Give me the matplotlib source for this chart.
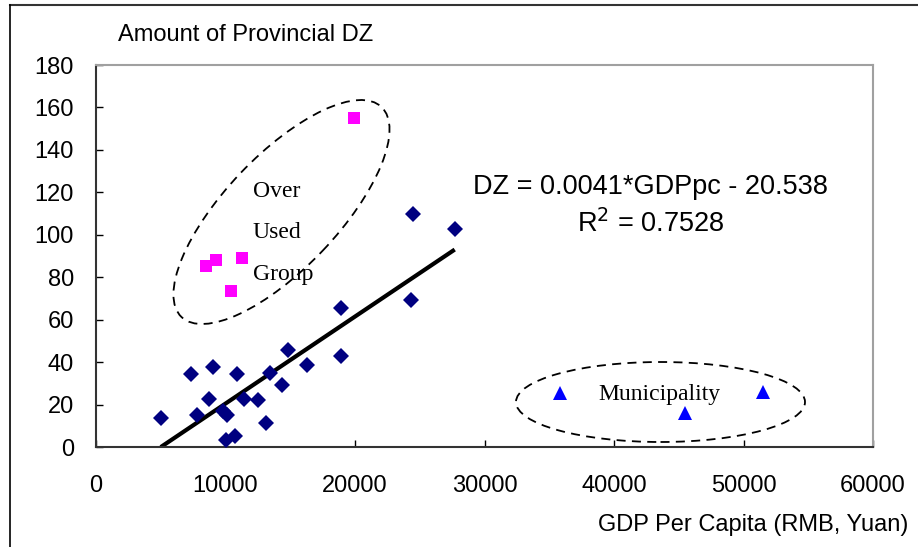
#!/usr/bin/env python3

import sys
import matplotlib
matplotlib.use("Agg")
import matplotlib.pyplot as plt
from matplotlib.patches import Ellipse
from matplotlib.lines import Line2D

# provinces (GDP per capita, amount of DZ)
normal_x = [5000, 7300, 9000, 10900, 13400, 14800, 16300, 18900, 18900, 14400, 8700,
            11400, 12500, 7800, 9800, 10100, 13100, 10000, 10700, 24500, 27700, 24300]
normal_y = [13.5, 34.3, 37.8, 34.3, 35.0, 45.6, 38.8, 65.4, 42.7, 29.4, 22.8,
            22.8, 22.0, 15.2, 17.0, 15.1, 11.5, 3.2, 5.0, 109.7, 102.7, 69.1]

overused_x = [19900, 8500, 9300, 11300, 10400]
overused_y = [155.2, 85.4, 88.1, 89.2, 73.4]

municipality_x = [35800, 45500, 51500]
municipality_y = [25.3, 15.9, 26.1]

slope = 0.0041
intercept = -20.538
r2 = 0.7528

x_ticks = [0, 10000, 20000, 30000, 40000, 50000, 60000]
y_ticks = [0, 20, 40, 60, 80, 100, 120, 140, 160, 180]


def main():
    plt.rcParams['font.family'] = ['Liberation Sans', 'DejaVu Sans']
    fig = plt.figure(figsize=(9.18, 5.47), dpi=100)
    ax = fig.add_axes([96 / 918, 100 / 547, 777 / 918, 382 / 547])

    # trend line over the range of the normal group
    lx = [min(normal_x), max(normal_x)]
    ly = [slope * v + intercept for v in lx]
    ax.plot(lx, ly, color='black', lw=3, solid_capstyle='butt', zorder=2)

    ax.plot(normal_x, normal_y, 'D', color='#000080', ms=7.8, mew=0, zorder=3)
    ax.plot(overused_x, overused_y, 's', color='#ff00ff', ms=8.2, mew=0, zorder=3)
    ax.plot(municipality_x, municipality_y, '^', color='#0000ff', ms=9.5, mew=0, zorder=3)

    ax.set_xlim(0, 60000)
    ax.set_ylim(0, 180)
    ax.set_xticks(x_ticks)
    ax.set_yticks(y_ticks)
    ax.tick_params(direction='in', length=5, width=1, labelsize=17)
    ax.tick_params(axis='y', pad=16)
    ax.tick_params(axis='x', pad=20)

    for s in ['left', 'bottom']:
        ax.spines[s].set_color('#333333')
        ax.spines[s].set_linewidth(1.5)
    for s in ['top', 'right']:
        ax.spines[s].set_color('#a0a0a0')
        ax.spines[s].set_linewidth(1.5)

    # dashed group outlines (in inches from figure corner)
    e1 = Ellipse((2.815, (547 - 212) / 100), 2.90, 1.13, angle=46.4,
                 transform=fig.dpi_scale_trans, fill=False, ec='black',
                 lw=1.3, ls=(0, (5, 3.5)), clip_on=False)
    e2 = Ellipse((6.605, (547 - 402) / 100), 2.89, 0.80, angle=0,
                 transform=fig.dpi_scale_trans, fill=False, ec='black',
                 lw=1.3, ls=(0, (5, 3.5)), clip_on=False)
    ax.add_patch(e1)
    ax.add_patch(e2)

    serif = ['Liberation Serif', 'DejaVu Serif']
    ax.text(12100, 117.9, 'Over', family=serif, fontsize=17, va='baseline')
    ax.text(12100, 98.6, 'Used', family=serif, fontsize=17, va='baseline')
    ax.text(12100, 78.7, 'Group', family=serif, fontsize=17, va='baseline')
    ax.text(38800, 22.1, 'Municipality', family=serif, fontsize=17, va='baseline')

    ax.text(42800, 119.2, 'DZ = %.4f*GDPpc - %.3f' % (slope, -intercept),
            fontsize=19.5, ha='center', va='baseline')
    ax.text(42800, 101.3, 'R$^2$ = %.4f' % r2,
            fontsize=19.5, ha='center', va='baseline')

    fig.text(246 / 918, (547 - 41) / 547, 'Amount of Provincial DZ',
             fontsize=17, ha='center', va='baseline')
    fig.text(908 / 918, (547 - 531) / 547, 'GDP Per Capita (RMB, Yuan)',
             fontsize=17, ha='right', va='baseline')

    # outer frame (cut off at right and bottom)
    fig.add_artist(Line2D([10 / 918, 1], [542 / 547, 542 / 547], color='#333333', lw=1.5))
    fig.add_artist(Line2D([10 / 918, 10 / 918], [0, 542 / 547], color='black', lw=1.2))

    fig.savefig('out.png', dpi=100)


if __name__ == '__main__':
    sys.exit(main())
